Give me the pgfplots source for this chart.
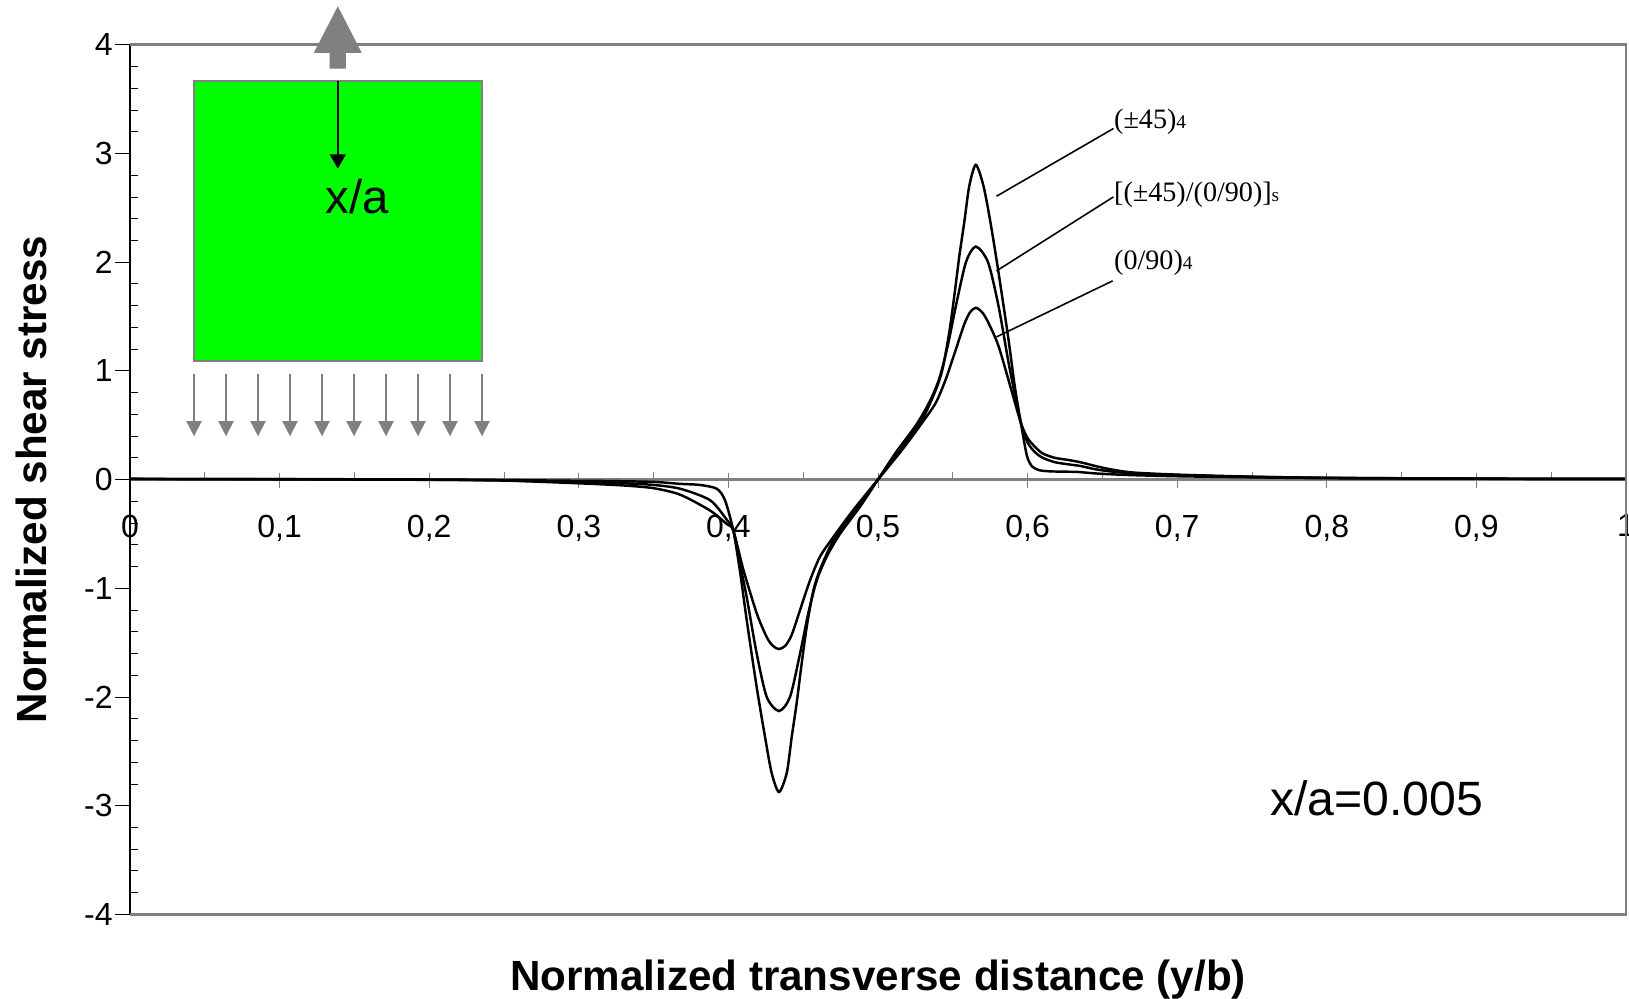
\documentclass[border=0pt]{standalone}
\usepackage{fontspec}
\setmainfont{Liberation Sans}
\newfontfamily\seriffont{Liberation Serif}
\usepackage{pgfplots}
\pgfplotsset{compat=1.18}
\usetikzlibrary{arrows.meta}
\definecolor{insetgreen}{HTML}{00FF00}
\definecolor{framegray}{HTML}{808080}
\newcommand{\lam}[2]{{\seriffont\fontsize{8}{9}\selectfont #1{\fontsize{5.5}{6}\selectfont #2}}}

\begin{document}
\begin{tikzpicture}
\begin{axis}[
    at={(0,0)}, anchor=south west,
    scale only axis, width=14.96cm, height=8.696cm,
    xmin=0, xmax=1, ymin=-4, ymax=4,
    clip=false,
    axis x line=middle, axis y line=left,
    axis line style={-},
    x axis line style={framegray, line width=0.6pt},
    y axis line style={black, line width=0.7pt},
    hide obscured x ticks=false, hide obscured y ticks=false,
    xtick={0,0.1,0.2,0.3,0.4,0.5,0.6,0.7,0.8,0.9,1},
    xticklabels={0,{0,1},{0,2},{0,3},{0,4},{0,5},{0,6},{0,7},{0,8},{0,9},1},
    ytick={-4,-3,-2,-1,0,1,2,3,4},
    yticklabels={-4,-3,-2,-1,0,1,2,3,4},
    minor x tick num=1, minor y tick num=4,
    tick align=inside,
    major tick length=0.15cm, minor tick length=0.077cm,
    major x tick style={framegray, yshift=-0.08cm},
    minor x tick style={framegray},
    major y tick style={black, xshift=-0.15cm},
    minor y tick style={black},
    ticklabel style={font=\fontsize{9.1}{11}\selectfont},
    xticklabel style={anchor=north, yshift=-0.23cm},
    yticklabel style={anchor=east, xshift=-0.05cm},
]
% (+-45)4
\addplot[black, mark=none, line width=0.7pt, smooth, tension=0.45] coordinates {
(0,0.005) (0.1,0.004) (0.2,0.0) (0.25,-0.005) (0.3,-0.012) (0.3142,-0.013)
(0.3498,-0.022) (0.3678,-0.04) (0.381,-0.05) (0.3922,-0.085) (0.3977,-0.19)
(0.4033,-0.47) (0.4078,-0.85) (0.4122,-1.29) (0.4189,-1.91) (0.4245,-2.37)
(0.4289,-2.70) (0.4338,-2.875) (0.439,-2.70) (0.4423,-2.37) (0.4456,-2.06)
(0.449,-1.69) (0.4523,-1.36) (0.4568,-1.02) (0.4612,-0.83) (0.4701,-0.56)
(0.4813,-0.34) (0.5,0) (0.5187,0.34) (0.5299,0.56) (0.5388,0.83) (0.5432,1.02)
(0.5477,1.36) (0.551,1.69) (0.5544,2.06) (0.5577,2.37) (0.561,2.70) (0.5654,2.895)
(0.5705,2.70) (0.5751,2.37) (0.5805,1.91) (0.5872,1.29) (0.5915,0.85) (0.5955,0.52)
(0.5995,0.22) (0.603,0.12) (0.608,0.085) (0.615,0.075) (0.625,0.072) (0.633,0.07)
(0.64,0.062) (0.65,0.052) (0.67,0.04) (0.7,0.03) (0.75,0.02) (0.8,0.012)
(0.9,0.007) (1,0.005)
};
% [(+-45)/(0/90)]s
\addplot[black, mark=none, line width=0.7pt, smooth, tension=0.45] coordinates {
(0,0.005) (0.1,0.003) (0.2,-0.002) (0.25,-0.008) (0.3,-0.025) (0.33,-0.035)
(0.35,-0.05) (0.3678,-0.085) (0.3877,-0.19) (0.3989,-0.37) (0.4033,-0.47)
(0.4078,-0.78) (0.4122,-1.08) (0.4189,-1.60) (0.4256,-2.0) (0.4338,-2.13)
(0.4412,-2.0) (0.4479,-1.6) (0.4534,-1.23) (0.459,-0.93) (0.4657,-0.71)
(0.4746,-0.50) (0.488,-0.25) (0.5,0) (0.512,0.25) (0.5254,0.50) (0.5343,0.71)
(0.541,0.93) (0.5466,1.23) (0.5521,1.60) (0.5588,2.0) (0.5654,2.143) (0.5735,2.0)
(0.5805,1.60) (0.5872,1.08) (0.5915,0.78) (0.5955,0.52) (0.6,0.34) (0.605,0.25)
(0.61,0.2) (0.618,0.16) (0.627,0.14) (0.635,0.125) (0.645,0.095) (0.655,0.075)
(0.67,0.057) (0.7,0.04) (0.75,0.025) (0.8,0.015) (0.9,0.008) (1,0.005)
};
% (0/90)4
\addplot[black, mark=none, line width=0.7pt, smooth, tension=0.45] coordinates {
(0,0.005) (0.1,0.002) (0.2,-0.003) (0.25,-0.01) (0.3,-0.035) (0.33,-0.055)
(0.35,-0.08) (0.3678,-0.14) (0.3877,-0.285) (0.3989,-0.41) (0.4033,-0.47)
(0.41,-0.83) (0.4189,-1.23) (0.4256,-1.45) (0.4297,-1.53) (0.4338,-1.56)
(0.438,-1.53) (0.4423,-1.43) (0.4479,-1.20) (0.4545,-0.93) (0.4612,-0.71)
(0.4701,-0.53) (0.4835,-0.28) (0.5,0) (0.5165,0.28) (0.5299,0.53) (0.5388,0.71)
(0.5455,0.93) (0.5521,1.20) (0.5577,1.43) (0.5616,1.54) (0.5654,1.58) (0.5695,1.54)
(0.5735,1.45) (0.5805,1.23) (0.589,0.83) (0.5955,0.52)
(0.6,0.38) (0.605,0.3) (0.61,0.24) (0.618,0.2) (0.627,0.18) (0.635,0.16)
(0.645,0.125) (0.655,0.095) (0.67,0.065) (0.7,0.045) (0.75,0.026) (0.8,0.016)
(0.9,0.008) (1,0.005)
};

% frame
\draw[framegray, line width=0.8pt] (rel axis cs:0,1) -- (rel axis cs:1,1) -- (rel axis cs:1,0) -- (rel axis cs:0,0);

% inset sketch
\draw[framegray, line width=0.7pt, fill=insetgreen] (axis cs:0.0428,1.091) rectangle (axis cs:0.2353,3.667);
\fill[framegray] (axis cs:0.1335,3.78) -- (axis cs:0.1335,3.925) -- (axis cs:0.1229,3.925)
  -- (axis cs:0.1389,4.354) -- (axis cs:0.1549,3.925) -- (axis cs:0.1443,3.925)
  -- (axis cs:0.1443,3.78) -- cycle;
\draw[black, line width=0.55pt, -{Triangle[width=4.5pt,length=4pt]}] (axis cs:0.1389,3.667) -- (axis cs:0.1389,2.861);
\node[anchor=west, inner sep=0pt, font=\fontsize{13.5}{15}\selectfont] at (axis cs:0.1305,2.60) {x/a};
\pgfplotsinvokeforeach{0,...,9}{
  \draw[framegray, line width=0.45pt, -{Triangle[width=4.3pt,length=4.3pt]}]
    (axis cs:{0.0428+#1*0.02139},0.975) -- (axis cs:{0.0428+#1*0.02139},0.398);
}

% layup annotations
\draw[black, line width=0.45pt] (axis cs:0.6574,3.229) -- (axis cs:0.5792,2.606);
\draw[black, line width=0.45pt] (axis cs:0.6574,2.60) -- (axis cs:0.5792,1.919);
\draw[black, line width=0.45pt] (axis cs:0.6568,1.827) -- (axis cs:0.5792,1.312);
\node[anchor=west, inner sep=0pt] at (axis cs:0.6574,3.29) {\lam{(±45)}{4}};
\node[anchor=west, inner sep=0pt] at (axis cs:0.6574,2.62) {\lam{[(±45)/(0/90)]}{s}};
\node[anchor=west, inner sep=0pt] at (axis cs:0.6574,1.995) {\lam{(0/90)}{4}};

\node[anchor=west, inner sep=0pt, font=\fontsize{13.7}{15}\selectfont] at (axis cs:0.7618,-2.935) {x/a=0.005};

% axis titles
\node[rotate=90, font=\bfseries\fontsize{12}{14}\selectfont] at ([xshift=-0.99cm]rel axis cs:0,0.5) {Normalized shear stress};
\node[font=\bfseries\fontsize{12}{14}\selectfont] at ([yshift=-0.65cm]rel axis cs:0.5,0) {Normalized transverse distance (y/b)};
\end{axis}
\pgfresetboundingbox
\useasboundingbox (-1.30,-0.837) rectangle (14.99,9.143);
\end{tikzpicture}
\end{document}
